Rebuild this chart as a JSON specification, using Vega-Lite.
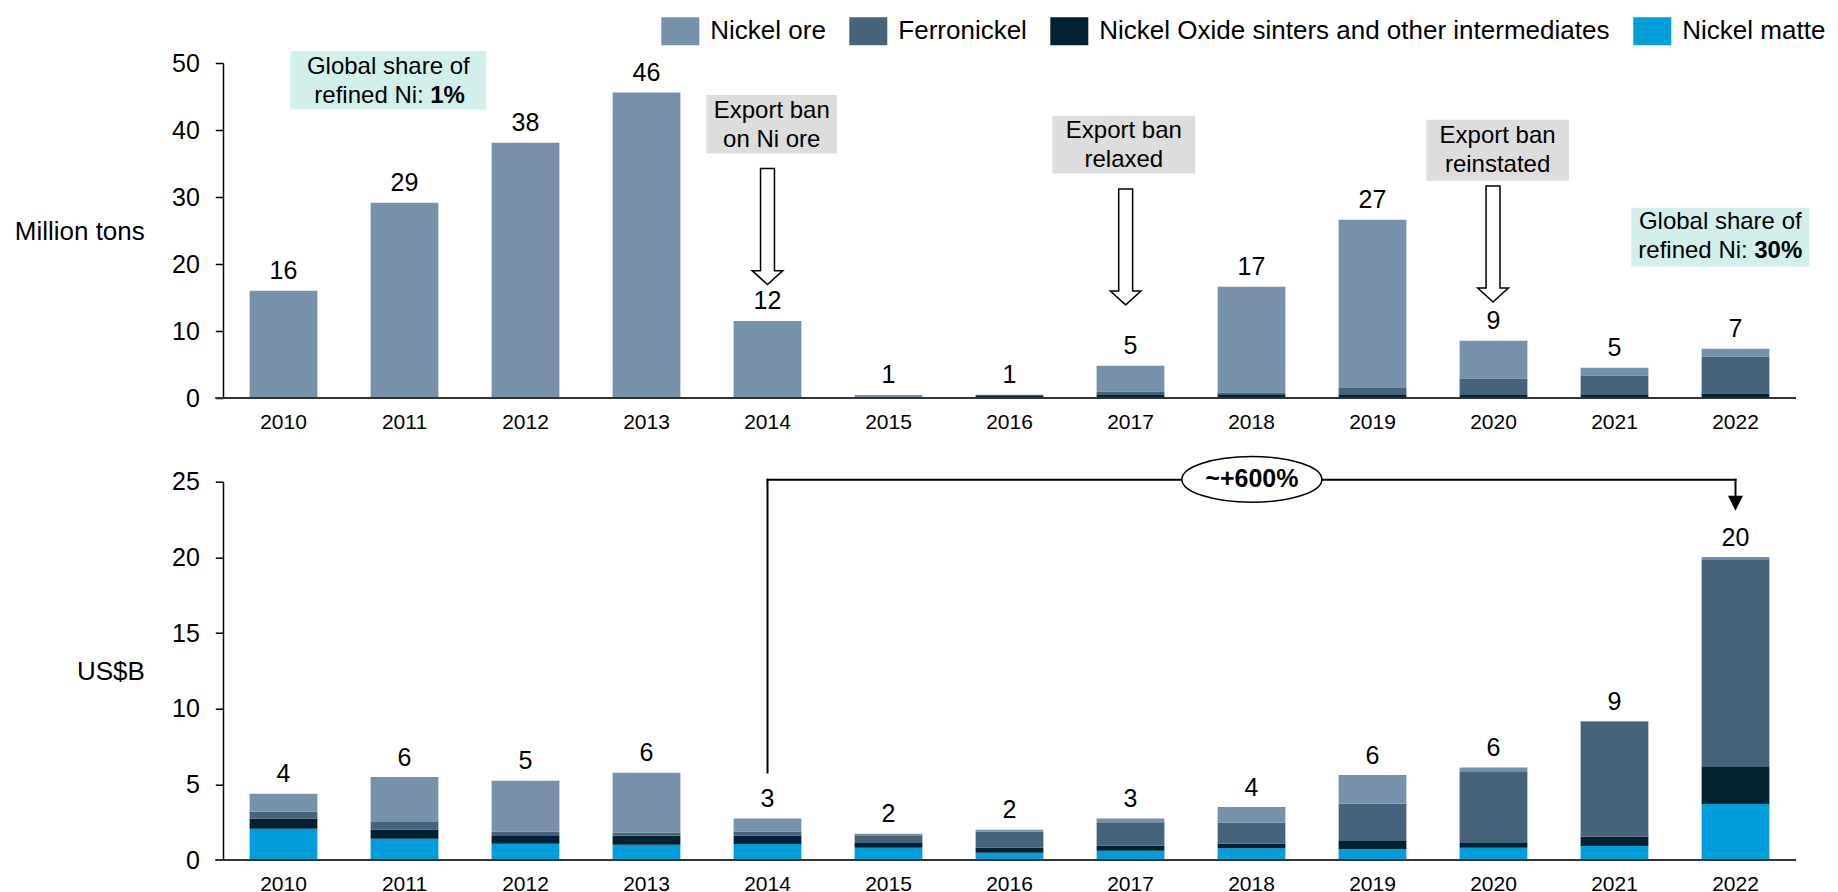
{
  "$schema": "https://vega.github.io/schema/vega-lite/v6.json",
  "background": "white",
  "padding": {"left": 14, "top": 11, "right": 0, "bottom": 0},
  "config": {
    "font": "Liberation Sans",
    "view": {"stroke": null},
    "axis": {"grid": false, "labelColor": "#000000", "titleColor": "#000000", "domainColor": "#000000", "tickColor": "#000000"}
  },
  "datasets": {
    "volume": [
      {"year": "2010", "product": "Nickel ore", "value": 16.0},
      {"year": "2011", "product": "Nickel ore", "value": 29.15},
      {"year": "2012", "product": "Nickel ore", "value": 38.1},
      {"year": "2013", "product": "Nickel ore", "value": 45.6},
      {"year": "2014", "product": "Nickel ore", "value": 11.5},
      {"year": "2015", "product": "Nickel ore", "value": 0.4},
      {"year": "2015", "product": "Ferronickel", "value": 0.05},
      {"year": "2016", "product": "Nickel ore", "value": 0.05},
      {"year": "2016", "product": "Ferronickel", "value": 0.15},
      {"year": "2016", "product": "Nickel Oxide sinters and other intermediates", "value": 0.3},
      {"year": "2017", "product": "Nickel ore", "value": 3.85},
      {"year": "2017", "product": "Ferronickel", "value": 0.5},
      {"year": "2017", "product": "Nickel Oxide sinters and other intermediates", "value": 0.45},
      {"year": "2018", "product": "Nickel ore", "value": 15.8},
      {"year": "2018", "product": "Ferronickel", "value": 0.35},
      {"year": "2018", "product": "Nickel Oxide sinters and other intermediates", "value": 0.45},
      {"year": "2019", "product": "Nickel ore", "value": 25.05},
      {"year": "2019", "product": "Ferronickel", "value": 1.1},
      {"year": "2019", "product": "Nickel Oxide sinters and other intermediates", "value": 0.45},
      {"year": "2020", "product": "Nickel ore", "value": 5.67},
      {"year": "2020", "product": "Ferronickel", "value": 2.43},
      {"year": "2020", "product": "Nickel Oxide sinters and other intermediates", "value": 0.45},
      {"year": "2021", "product": "Nickel ore", "value": 1.19},
      {"year": "2021", "product": "Ferronickel", "value": 2.88},
      {"year": "2021", "product": "Nickel Oxide sinters and other intermediates", "value": 0.45},
      {"year": "2022", "product": "Nickel ore", "value": 1.2},
      {"year": "2022", "product": "Ferronickel", "value": 5.47},
      {"year": "2022", "product": "Nickel Oxide sinters and other intermediates", "value": 0.69}
    ],
    "volumeTotals": [
      {"year": "2010", "total": 16.0, "label": "16"},
      {"year": "2011", "total": 29.15, "label": "29"},
      {"year": "2012", "total": 38.1, "label": "38"},
      {"year": "2013", "total": 45.6, "label": "46"},
      {"year": "2014", "total": 11.5, "label": "12"},
      {"year": "2015", "total": 0.45, "label": "1"},
      {"year": "2016", "total": 0.5, "label": "1"},
      {"year": "2017", "total": 4.8, "label": "5"},
      {"year": "2018", "total": 16.6, "label": "17"},
      {"year": "2019", "total": 26.6, "label": "27"},
      {"year": "2020", "total": 8.55, "label": "9"},
      {"year": "2021", "total": 4.52, "label": "5"},
      {"year": "2022", "total": 7.36, "label": "7"}
    ],
    "exports": [
      {"year": "2010", "product": "Nickel matte", "value": 2.07},
      {"year": "2010", "product": "Nickel Oxide sinters and other intermediates", "value": 0.68},
      {"year": "2010", "product": "Ferronickel", "value": 0.44},
      {"year": "2010", "product": "Nickel ore", "value": 1.19},
      {"year": "2011", "product": "Nickel matte", "value": 1.41},
      {"year": "2011", "product": "Nickel Oxide sinters and other intermediates", "value": 0.61},
      {"year": "2011", "product": "Ferronickel", "value": 0.49},
      {"year": "2011", "product": "Nickel ore", "value": 2.98},
      {"year": "2012", "product": "Nickel matte", "value": 1.08},
      {"year": "2012", "product": "Nickel Oxide sinters and other intermediates", "value": 0.55},
      {"year": "2012", "product": "Ferronickel", "value": 0.26},
      {"year": "2012", "product": "Nickel ore", "value": 3.35},
      {"year": "2013", "product": "Nickel matte", "value": 1.01},
      {"year": "2013", "product": "Nickel Oxide sinters and other intermediates", "value": 0.6},
      {"year": "2013", "product": "Ferronickel", "value": 0.21},
      {"year": "2013", "product": "Nickel ore", "value": 3.95},
      {"year": "2014", "product": "Nickel matte", "value": 1.06},
      {"year": "2014", "product": "Nickel Oxide sinters and other intermediates", "value": 0.55},
      {"year": "2014", "product": "Ferronickel", "value": 0.26},
      {"year": "2014", "product": "Nickel ore", "value": 0.88},
      {"year": "2015", "product": "Nickel matte", "value": 0.81},
      {"year": "2015", "product": "Nickel Oxide sinters and other intermediates", "value": 0.31},
      {"year": "2015", "product": "Ferronickel", "value": 0.51},
      {"year": "2015", "product": "Nickel ore", "value": 0.11},
      {"year": "2016", "product": "Nickel matte", "value": 0.48},
      {"year": "2016", "product": "Nickel Oxide sinters and other intermediates", "value": 0.35},
      {"year": "2016", "product": "Ferronickel", "value": 1.04},
      {"year": "2016", "product": "Nickel ore", "value": 0.13},
      {"year": "2017", "product": "Nickel matte", "value": 0.61},
      {"year": "2017", "product": "Nickel Oxide sinters and other intermediates", "value": 0.34},
      {"year": "2017", "product": "Ferronickel", "value": 1.54},
      {"year": "2017", "product": "Nickel ore", "value": 0.26},
      {"year": "2018", "product": "Nickel matte", "value": 0.77},
      {"year": "2018", "product": "Nickel Oxide sinters and other intermediates", "value": 0.31},
      {"year": "2018", "product": "Ferronickel", "value": 1.39},
      {"year": "2018", "product": "Nickel ore", "value": 1.03},
      {"year": "2019", "product": "Nickel matte", "value": 0.73},
      {"year": "2019", "product": "Nickel Oxide sinters and other intermediates", "value": 0.53},
      {"year": "2019", "product": "Ferronickel", "value": 2.48},
      {"year": "2019", "product": "Nickel ore", "value": 1.88},
      {"year": "2020", "product": "Nickel matte", "value": 0.81},
      {"year": "2020", "product": "Nickel Oxide sinters and other intermediates", "value": 0.31},
      {"year": "2020", "product": "Ferronickel", "value": 4.74},
      {"year": "2020", "product": "Nickel ore", "value": 0.26},
      {"year": "2021", "product": "Nickel matte", "value": 0.93},
      {"year": "2021", "product": "Nickel Oxide sinters and other intermediates", "value": 0.61},
      {"year": "2021", "product": "Ferronickel", "value": 7.61},
      {"year": "2021", "product": "Nickel ore", "value": 0.04},
      {"year": "2022", "product": "Nickel matte", "value": 3.7},
      {"year": "2022", "product": "Nickel Oxide sinters and other intermediates", "value": 2.49},
      {"year": "2022", "product": "Ferronickel", "value": 13.68},
      {"year": "2022", "product": "Nickel ore", "value": 0.16}
    ],
    "exportTotals": [
      {"year": "2010", "total": 4.38, "label": "4"},
      {"year": "2011", "total": 5.49, "label": "6"},
      {"year": "2012", "total": 5.24, "label": "5"},
      {"year": "2013", "total": 5.77, "label": "6"},
      {"year": "2014", "total": 2.75, "label": "3"},
      {"year": "2015", "total": 1.74, "label": "2"},
      {"year": "2016", "total": 2.0, "label": "2"},
      {"year": "2017", "total": 2.75, "label": "3"},
      {"year": "2018", "total": 3.5, "label": "4"},
      {"year": "2019", "total": 5.62, "label": "6"},
      {"year": "2020", "total": 6.12, "label": "6"},
      {"year": "2021", "total": 9.19, "label": "9"},
      {"year": "2022", "total": 20.03, "label": "20"}
    ],
    "shareBoxes": [
      {"u1": 0.556, "u2": 2.176, "v1": 43.07, "v2": 51.8},
      {"u1": 11.639, "u2": 13.11, "v1": 19.64, "v2": 28.4}
    ],
    "banBoxes": [
      {"u1": 3.995, "u2": 5.074, "v1": 36.51, "v2": 45.22},
      {"u1": 6.854, "u2": 8.035, "v1": 33.52, "v2": 42.13},
      {"u1": 9.945, "u2": 11.124, "v1": 32.43, "v2": 41.54}
    ],
    "noteCenter": [
      {"u": 1.366, "v": 49.35, "text": "Global share of"},
      {"u": 12.374, "v": 26.21, "text": "Global share of"},
      {"u": 4.535, "v": 42.88, "text": "Export ban"},
      {"u": 4.535, "v": 38.51, "text": "on Ni ore"},
      {"u": 7.445, "v": 39.79, "text": "Export ban"},
      {"u": 7.445, "v": 35.57, "text": "relaxed"},
      {"u": 10.534, "v": 39.04, "text": "Export ban"},
      {"u": 10.534, "v": 34.82, "text": "reinstated"}
    ],
    "noteRight": [
      {"u": 1.659, "v": 45.12, "text": "refined Ni:"},
      {"u": 12.601, "v": 21.99, "text": "refined Ni:"}
    ],
    "noteBold": [
      {"u": 1.713, "v": 45.12, "text": "1%"},
      {"u": 12.655, "v": 21.99, "text": "30%"}
    ],
    "banArrows": [
      {"u": 4.5, "v": 25.59},
      {"u": 7.46, "v": 22.55},
      {"u": 10.496, "v": 22.98}
    ],
    "baseline": [
      {"u1": -0.064, "u2": 13, "v": 0}
    ],
    "bracket": [
      {"u1": 4.5, "u2": 4.5, "v1": 5.79, "v2": 25.13},
      {"u1": 4.5, "u2": 12.5, "v1": 25.13, "v2": 25.13},
      {"u1": 12.5, "u2": 12.5, "v1": 25.13, "v2": 24.0}
    ],
    "bracketHead": [
      {"u": 12.5, "v": 23.58}
    ],
    "growth": [
      {"u": 8.503, "v": 25.15, "text": "~+600%"}
    ]
  },
  "vconcat": [
    {
      "width": 1573,
      "height": 335,
      "resolve": {"scale": {"x": "independent"}},
      "layer": [
        {
          "data": {"name": "volume"},
          "transform": [{"calculate": "indexof(['Nickel matte','Nickel Oxide sinters and other intermediates','Ferronickel','Nickel ore'], datum.product)", "as": "stackOrder"}],
          "mark": {"type": "bar"},
          "encoding": {
            "x": {"field": "year", "type": "ordinal", "scale": {"paddingInner": 0.44, "paddingOuter": 0.22},
              "axis": {"title": null, "domain": false, "ticks": false, "labelFontSize": 21, "labelPadding": 13, "labelAngle": 0}},
            "y": {"field": "value", "type": "quantitative", "stack": "zero", "scale": {"domain": [0, 50]},
              "axis": {"title": "Million tons", "titleAngle": 0, "titleAlign": "right", "titleBaseline": "middle", "titleX": -78.7, "titleY": 168.4, "titleFontSize": 26, "titleFontWeight": "normal", "labelFontSize": 25, "labelPadding": 16, "tickSize": 7.7, "tickWidth": 1.5, "domainWidth": 1.5, "values": [0, 10, 20, 30, 40, 50]}},
            "color": {"field": "product", "type": "nominal",
              "scale": {"domain": ["Nickel ore", "Ferronickel", "Nickel Oxide sinters and other intermediates", "Nickel matte"], "range": ["#7891AA", "#46637C", "#022131", "#009DDB"]},
              "legend": {"orient": "none", "direction": "horizontal", "legendX": 438.3, "legendY": -51.3, "title": null, "symbolType": "M-1,-0.737L1,-0.737L1,0.737L-1,0.737Z", "symbolSize": 1444, "symbolStrokeWidth": 0, "labelFontSize": 26, "labelOffset": 11, "columnPadding": 23, "labelLimit": 1000, "labelColor": "#000000"}},
            "order": {"field": "stackOrder", "type": "quantitative", "sort": "ascending"}
          }
        },
        {
          "data": {"name": "volumeTotals"},
          "mark": {"type": "text", "fontSize": 25, "baseline": "alphabetic", "dy": -11.7, "color": "#000000"},
          "encoding": {
            "x": {"field": "year", "type": "ordinal", "scale": {"paddingInner": 0.44, "paddingOuter": 0.22}, "axis": null},
            "y": {"field": "total", "type": "quantitative", "scale": {"domain": [0, 50]}},
            "text": {"field": "label"}
          }
        },
        {
          "data": {"name": "baseline"},
          "mark": {"type": "rule", "color": "#333333", "strokeWidth": 2},
          "encoding": {
            "x": {"field": "u1", "type": "quantitative", "scale": {"domain": [0, 13], "nice": false, "zero": false}, "axis": null},
            "x2": {"field": "u2"},
            "y": {"field": "v", "type": "quantitative", "scale": {"domain": [0, 50]}}
          }
        },
        {
          "data": {"name": "shareBoxes"},
          "mark": {"type": "rect", "color": "#D2EFEC"},
          "encoding": {
            "x": {"field": "u1", "type": "quantitative", "scale": {"domain": [0, 13], "nice": false, "zero": false}, "axis": null},
            "x2": {"field": "u2"},
            "y": {"field": "v1", "type": "quantitative", "scale": {"domain": [0, 50]}},
            "y2": {"field": "v2"}
          }
        },
        {
          "data": {"name": "banBoxes"},
          "mark": {"type": "rect", "color": "#DDDDDD"},
          "encoding": {
            "x": {"field": "u1", "type": "quantitative", "scale": {"domain": [0, 13], "nice": false, "zero": false}, "axis": null},
            "x2": {"field": "u2"},
            "y": {"field": "v1", "type": "quantitative", "scale": {"domain": [0, 50]}},
            "y2": {"field": "v2"}
          }
        },
        {
          "data": {"name": "noteCenter"},
          "mark": {"type": "text", "fontSize": 24, "align": "center", "baseline": "middle", "color": "#000000"},
          "encoding": {
            "x": {"field": "u", "type": "quantitative", "scale": {"domain": [0, 13], "nice": false, "zero": false}, "axis": null},
            "y": {"field": "v", "type": "quantitative", "scale": {"domain": [0, 50]}},
            "text": {"field": "text"}
          }
        },
        {
          "data": {"name": "noteRight"},
          "mark": {"type": "text", "fontSize": 24, "align": "right", "baseline": "middle", "color": "#000000"},
          "encoding": {
            "x": {"field": "u", "type": "quantitative", "scale": {"domain": [0, 13], "nice": false, "zero": false}, "axis": null},
            "y": {"field": "v", "type": "quantitative", "scale": {"domain": [0, 50]}},
            "text": {"field": "text"}
          }
        },
        {
          "data": {"name": "noteBold"},
          "mark": {"type": "text", "fontSize": 24, "fontWeight": "bold", "align": "left", "baseline": "middle", "color": "#000000"},
          "encoding": {
            "x": {"field": "u", "type": "quantitative", "scale": {"domain": [0, 13], "nice": false, "zero": false}, "axis": null},
            "y": {"field": "v", "type": "quantitative", "scale": {"domain": [0, 50]}},
            "text": {"field": "text"}
          }
        },
        {
          "data": {"name": "banArrows"},
          "mark": {"type": "point", "shape": "M-0.12,-1L0.12,-1L0.12,0.76L0.264,0.76L0,1L-0.264,0.76L-0.12,0.76Z", "size": 13456, "filled": true, "fill": "#FFFFFF", "stroke": "#000000", "strokeWidth": 1.5, "opacity": 1, "fillOpacity": 1, "strokeOpacity": 1},
          "encoding": {
            "x": {"field": "u", "type": "quantitative", "scale": {"domain": [0, 13], "nice": false, "zero": false}, "axis": null},
            "y": {"field": "v", "type": "quantitative", "scale": {"domain": [0, 50]}}
          }
        }
      ]
    },
    {
      "width": 1573,
      "height": 378.3,
      "resolve": {"scale": {"x": "independent"}},
      "layer": [
        {
          "data": {"name": "exports"},
          "transform": [{"calculate": "indexof(['Nickel matte','Nickel Oxide sinters and other intermediates','Ferronickel','Nickel ore'], datum.product)", "as": "stackOrder"}],
          "mark": {"type": "bar"},
          "encoding": {
            "x": {"field": "year", "type": "ordinal", "scale": {"paddingInner": 0.44, "paddingOuter": 0.22},
              "axis": {"title": null, "domain": false, "ticks": false, "labelFontSize": 21, "labelPadding": 13, "labelAngle": 0}},
            "y": {"field": "value", "type": "quantitative", "stack": "zero", "scale": {"domain": [0, 25]},
              "axis": {"title": "US$B", "titleAngle": 0, "titleAlign": "right", "titleBaseline": "middle", "titleX": -78.7, "titleY": 189.7, "titleFontSize": 26, "titleFontWeight": "normal", "labelFontSize": 25, "labelPadding": 16, "tickSize": 7.7, "tickWidth": 1.5, "domainWidth": 1.5, "values": [0, 5, 10, 15, 20, 25]}},
            "color": {"field": "product", "type": "nominal",
              "scale": {"domain": ["Nickel ore", "Ferronickel", "Nickel Oxide sinters and other intermediates", "Nickel matte"], "range": ["#7891AA", "#46637C", "#022131", "#009DDB"]},
              "legend": null},
            "order": {"field": "stackOrder", "type": "quantitative", "sort": "ascending"}
          }
        },
        {
          "data": {"name": "exportTotals"},
          "mark": {"type": "text", "fontSize": 25, "baseline": "alphabetic", "dy": -11.3, "color": "#000000"},
          "encoding": {
            "x": {"field": "year", "type": "ordinal", "scale": {"paddingInner": 0.44, "paddingOuter": 0.22}, "axis": null},
            "y": {"field": "total", "type": "quantitative", "scale": {"domain": [0, 25]}},
            "text": {"field": "label"}
          }
        },
        {
          "data": {"name": "baseline"},
          "mark": {"type": "rule", "color": "#333333", "strokeWidth": 2},
          "encoding": {
            "x": {"field": "u1", "type": "quantitative", "scale": {"domain": [0, 13], "nice": false, "zero": false}, "axis": null},
            "x2": {"field": "u2"},
            "y": {"field": "v", "type": "quantitative", "scale": {"domain": [0, 25]}}
          }
        },
        {
          "data": {"name": "bracket"},
          "mark": {"type": "rule", "color": "#000000", "strokeWidth": 2, "strokeCap": "square"},
          "encoding": {
            "x": {"field": "u1", "type": "quantitative", "scale": {"domain": [0, 13], "nice": false, "zero": false}, "axis": null},
            "x2": {"field": "u2"},
            "y": {"field": "v1", "type": "quantitative", "scale": {"domain": [0, 25]}},
            "y2": {"field": "v2"}
          }
        },
        {
          "data": {"name": "bracketHead"},
          "mark": {"type": "point", "shape": "M-1,-1L1,-1L0,1Z", "size": 225, "filled": true, "color": "#000000", "opacity": 1},
          "encoding": {
            "x": {"field": "u", "type": "quantitative", "scale": {"domain": [0, 13], "nice": false, "zero": false}, "axis": null},
            "y": {"field": "v", "type": "quantitative", "scale": {"domain": [0, 25]}}
          }
        },
        {
          "data": {"name": "growth"},
          "mark": {"type": "point", "shape": "M-1,0A1,0.326,0,1,0,1,0A1,0.326,0,1,0,-1,0Z", "size": 19600, "filled": true, "fill": "#FFFFFF", "stroke": "#000000", "strokeWidth": 1.5, "opacity": 1, "fillOpacity": 1, "strokeOpacity": 1},
          "encoding": {
            "x": {"field": "u", "type": "quantitative", "scale": {"domain": [0, 13], "nice": false, "zero": false}, "axis": null},
            "y": {"field": "v", "type": "quantitative", "scale": {"domain": [0, 25]}}
          }
        },
        {
          "data": {"name": "growth"},
          "mark": {"type": "text", "fontSize": 25, "fontWeight": "bold", "align": "center", "baseline": "middle", "color": "#000000", "dy": -0.5},
          "encoding": {
            "x": {"field": "u", "type": "quantitative", "scale": {"domain": [0, 13], "nice": false, "zero": false}, "axis": null},
            "y": {"field": "v", "type": "quantitative", "scale": {"domain": [0, 25]}},
            "text": {"field": "text"}
          }
        }
      ]
    }
  ],
  "spacing": 83.7,
  "bounds": "flush",
  "resolve": {"legend": {"color": "independent"}}
}
